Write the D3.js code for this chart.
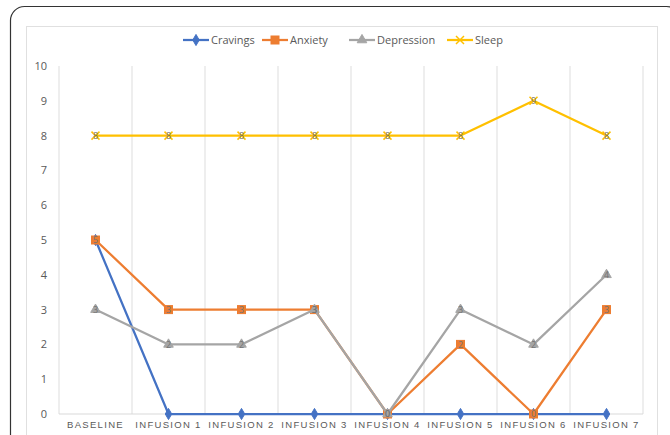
<!DOCTYPE html>
<html><head><meta charset="utf-8">
<script src="https://cdn.jsdelivr.net/npm/d3@7"></script>
<style>body{margin:0;background:#fff;}svg{display:block;font-family:"Open Sans","Noto Sans",sans-serif;}</style>
</head><body>
<svg id="c" width="670" height="435"></svg>
<script>
const categories = ["BASELINE","INFUSION 1","INFUSION 2","INFUSION 3","INFUSION 4","INFUSION 5","INFUSION 6","INFUSION 7"];
const cravings = [5,0,0,0,0,0,0,0];
const anxiety = [5,3,3,3,0,2,0,3];
const depression = [3,2,2,3,0,3,2,4];
const sleep = [8,8,8,8,8,8,9,8];
const yTicks = [0,1,2,3,4,5,6,7,8,9,10];
const seriesNames = ["Cravings","Anxiety","Depression","Sleep"];
const seriesColors = ["#4472C4","#ED7D31","#A5A5A5","#FFC000"];
const seriesMarkers = ["diamond","square","triangle","x"];
const seriesLabels = [false,true,true,true];

const series = [cravings,anxiety,depression,sleep].map((v,i)=>({name:seriesNames[i],values:v,color:seriesColors[i],marker:seriesMarkers[i],labels:seriesLabels[i]}));

const svg = d3.select("#c");
svg.append("rect").attr("x",10.5).attr("y",6.5).attr("width",670).attr("height",460).attr("rx",14)
  .attr("fill","#fff").attr("stroke","#333").attr("stroke-width",1.2);
svg.append("rect").attr("x",26.5).attr("y",26.5).attr("width",631).attr("height",440)
  .attr("fill","#fff").attr("stroke","#e0e0e0").attr("stroke-width",1);

const x = d3.scaleBand().domain(categories).range([59,643]);
const y = d3.scaleLinear().domain([0,10]).range([414,66]);

const bounds = categories.map(c=>x(c)).concat([x.range()[1]]);
svg.append("g").selectAll("line").data(bounds).join("line")
  .attr("x1",d=>d).attr("x2",d=>d).attr("y1",y(10)).attr("y2",y(0))
  .attr("stroke","#e3e3e3").attr("stroke-width",1.2);
svg.append("line").attr("x1",59).attr("x2",643).attr("y1",y(0)).attr("y2",y(0)).attr("stroke","#d9d9d9");

const yAxis = d3.axisLeft(y).tickValues(yTicks).tickSize(0).tickPadding(0);
const gy = svg.append("g").attr("transform","translate(47,0)").call(yAxis);
gy.select(".domain").remove();
gy.selectAll("text").attr("fill","#595959").attr("font-size","11px").attr("font-family","Open Sans, sans-serif");

const xAxis = d3.axisBottom(x).tickSize(0).tickPadding(0);
const gx = svg.append("g").attr("transform","translate(0,421)").call(xAxis);
gx.select(".domain").remove();
gx.selectAll("text").attr("fill","#595959").attr("font-size","9.5px").attr("letter-spacing","1.3px").attr("dy","0.71em");

const line = d3.line().x((d,i)=>x(categories[i])+x.bandwidth()/2).y(d=>y(d));

function drawMarker(g, type, color, cx, cy){
  if(type==="diamond"){
    g.append("path").attr("d",d3.symbol(d3.symbolDiamond,36)()).attr("transform",`translate(${cx},${cy})`).attr("fill",color).attr("stroke",color);
  } else if(type==="square"){
    g.append("rect").attr("x",cx-4).attr("y",cy-4).attr("width",8).attr("height",8).attr("fill",color).attr("stroke",color);
  } else if(type==="triangle"){
    g.append("path").attr("d",d3.symbol(d3.symbolTriangle,40)()).attr("transform",`translate(${cx},${cy})`).attr("fill",color).attr("stroke",color);
  } else {
    g.append("path").attr("d",`M${cx-4},${cy-4}L${cx+4},${cy+4}M${cx-4},${cy+4}L${cx+4},${cy-4}`).attr("stroke",color).attr("stroke-width",1.5).attr("fill","none");
  }
}

series.forEach(s=>{
  const g = svg.append("g");
  g.append("path").datum(s.values).attr("d",line).attr("fill","none").attr("stroke",s.color).attr("stroke-width",2.25).attr("stroke-linejoin","round");
  s.values.forEach((v,i)=>{
    const cx = x(categories[i])+x.bandwidth()/2, cy=y(v);
    drawMarker(g,s.marker,s.color,cx,cy);
  });
});
series.forEach(s=>{
  if(!s.labels) return;
  svg.append("g").selectAll("text").data(s.values).join("text")
    .attr("x",(d,i)=>x(categories[i])+x.bandwidth()/2).attr("y",d=>y(d)).attr("dy","0.36em")
    .attr("text-anchor","middle").attr("font-size","9px").attr("fill","#737373").text(d=>d);
});

const legX = [183,262,349,447];
const lg = svg.append("g");
series.forEach((s,i)=>{
  const lx = legX[i], ly = 40;
  lg.append("line").attr("x1",lx).attr("x2",lx+26).attr("y1",ly).attr("y2",ly).attr("stroke",s.color).attr("stroke-width",2.25);
  drawMarker(lg,s.marker,s.color,lx+13,ly);
  lg.append("text").attr("x",lx+28).attr("y",ly).attr("dy","0.35em").attr("font-size","11px").attr("fill","#595959").text(s.name);
});
</script>
</body></html>
